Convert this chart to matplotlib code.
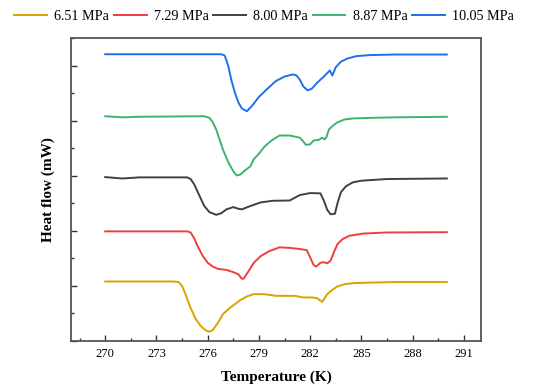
import matplotlib
matplotlib.use('Agg')
import matplotlib.pyplot as plt
from matplotlib.ticker import MultipleLocator, NullFormatter

plt.rcParams['font.family'] = ['Liberation Serif', 'DejaVu Serif']

# DSC curves (x in K, y in stacked heat-flow units)
x_651 = [270, 274.0, 274.3, 274.5, 274.7, 275.0, 275.3, 275.6, 275.9, 276.1, 276.3, 276.6,
         276.9, 277.3, 277.9, 278.3, 278.7, 279.3, 280.0, 280.6, 281.1, 281.6, 282.1, 282.4,
         282.7, 283.0, 283.3, 283.6, 284.0, 284.5, 285.5, 287, 290]
y_651 = [1.08, 1.08, 1.07, 1.0, 0.85, 0.6, 0.4, 0.27, 0.19, 0.17, 0.2, 0.33,
         0.49, 0.6, 0.74, 0.81, 0.85, 0.85, 0.82, 0.82, 0.82, 0.79, 0.79, 0.78,
         0.71, 0.85, 0.93, 0.99, 1.03, 1.05, 1.06, 1.07, 1.07]

x_729 = [270, 274.8, 275.0, 275.2, 275.4, 275.7, 276.0, 276.3, 276.6, 277.1, 277.5, 277.8,
         278.0, 278.1, 278.4, 278.7, 279.1, 279.6, 280.2, 280.8, 281.4, 281.8, 282.0, 282.2,
         282.35, 282.6, 282.8, 283.0, 283.2, 283.4, 283.6, 283.9, 284.3, 285.1, 286.5, 290]
y_729 = [1.99, 1.99, 1.97, 1.87, 1.73, 1.55, 1.42, 1.35, 1.31, 1.29, 1.25, 1.21,
         1.13, 1.13, 1.27, 1.42, 1.54, 1.63, 1.70, 1.69, 1.67, 1.65, 1.52, 1.38,
         1.35, 1.42, 1.43, 1.41, 1.46, 1.62, 1.76, 1.85, 1.91, 1.95, 1.97, 1.975]

x_800 = [270, 271.0, 272.0, 274.8, 275.0, 275.2, 275.5, 275.8, 276.1, 276.5, 276.8, 277.1,
         277.5, 277.8, 278.0, 278.5, 279.1, 279.8, 280.8, 281.1, 281.4, 282.0, 282.6, 282.8,
         283.0, 283.2, 283.45, 283.6, 283.8, 284.1, 284.5, 285.0, 286.5, 290]
y_800 = [2.975, 2.95, 2.97, 2.97, 2.94, 2.85, 2.65, 2.45, 2.34, 2.29, 2.32, 2.39,
         2.43, 2.40, 2.39, 2.45, 2.515, 2.545, 2.55, 2.60, 2.65, 2.685, 2.68, 2.55,
         2.38, 2.30, 2.31, 2.50, 2.70, 2.81, 2.88, 2.91, 2.94, 2.95]

x_887 = [270, 271.0, 272.0, 275.8, 276.1, 276.3, 276.5, 276.7, 276.9, 277.2, 277.5, 277.7,
         277.9, 278.2, 278.5, 278.7, 279.0, 279.3, 279.7, 280.2, 280.8, 281.4, 281.6, 281.75,
         282.0, 282.2, 282.5, 282.7, 282.85, 282.95, 283.1, 283.3, 283.6, 284.0, 284.5, 285.5,
         287, 290]
y_887 = [4.08, 4.06, 4.07, 4.08, 4.05, 3.97, 3.84, 3.65, 3.47, 3.25, 3.08, 3.005,
         3.02, 3.10, 3.17, 3.30, 3.40, 3.52, 3.63, 3.73, 3.73, 3.69, 3.62, 3.56,
         3.57, 3.64, 3.65, 3.69, 3.66, 3.70, 3.84, 3.90, 3.97, 4.02, 4.04, 4.05,
         4.06, 4.07]

x_1005 = [270, 276.8, 277.0, 277.2, 277.4, 277.6, 277.8, 278.0, 278.3, 278.6, 279.0, 279.5,
          280.0, 280.5, 281.0, 281.2, 281.4, 281.6, 281.85, 282.1, 282.4, 282.8, 283.15, 283.3,
          283.5, 283.8, 284.2, 284.7, 285.5, 287, 290]
y_1005 = [5.205, 5.205, 5.18, 5.00, 4.72, 4.50, 4.33, 4.22, 4.17, 4.27, 4.43, 4.58,
          4.72, 4.80, 4.84, 4.82, 4.74, 4.62, 4.55, 4.58, 4.685, 4.80, 4.91, 4.82,
          4.97, 5.07, 5.13, 5.17, 5.19, 5.20, 5.20]

labels = ['6.51 MPa', '7.29 MPa', '8.00 MPa', '8.87 MPa', '10.05 MPa']
colors = ['#d9a300', '#f23c3f', '#404040', '#3cb46e', '#1f70e8']
series = [(x_651, y_651), (x_729, y_729), (x_800, y_800), (x_887, y_887), (x_1005, y_1005)]

fig = plt.figure(figsize=(5.48, 3.85), dpi=100)
ax = fig.add_axes([0.1296, 0.1143, 0.7481, 0.787])

for (xs, ys), lab, c in zip(series, labels, colors):
    ax.plot(xs, ys, color=c, lw=1.4, label=lab)

ax.set_xlim(268, 292)
ax.set_ylim(0, 5.5)
ax.set_xticks([270, 273, 276, 279, 282, 285, 288, 291])
ax.xaxis.set_minor_locator(MultipleLocator(1.5))
ax.yaxis.set_major_locator(MultipleLocator(1))
ax.yaxis.set_minor_locator(MultipleLocator(0.5))
ax.yaxis.set_major_formatter(NullFormatter())
ax.tick_params(which='both', direction='in', top=False, right=False, labelsize=9, colors='#333333')
ax.tick_params(which='major', length=4.5, width=1)
ax.tick_params(which='minor', length=2.5, width=1)
ax.tick_params(axis='x', labelcolor='black', pad=5)
for s in ax.spines.values():
    s.set_linewidth(1.3)
    s.set_color('#555555')

ax.set_xlabel('Temperature (K)', fontsize=11, fontweight='bold', labelpad=7.5)
ax.set_ylabel('Heat flow (mW)', fontsize=11, fontweight='bold', labelpad=8)

fig.legend(loc='center', bbox_to_anchor=(0.482, 0.958), ncol=5, frameon=False,
           fontsize=10.2, handlelength=2.3, handletextpad=0.5, columnspacing=0.35,
           borderaxespad=0)

plt.savefig('out.png', dpi=100)
